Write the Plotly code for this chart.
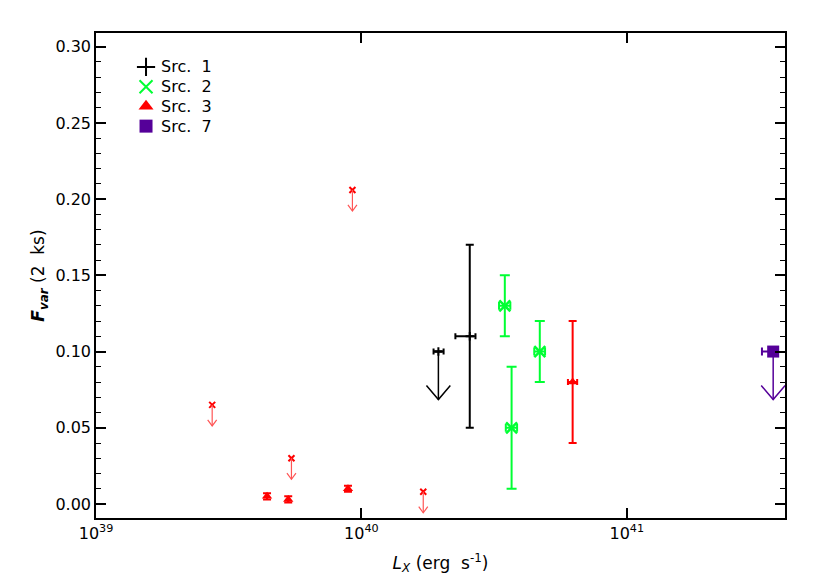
import numpy as np
import plotly.graph_objects as go

# ---------------- data ----------------
# Src. 1 (black)
src1_x = [1.95e40, 2.56e40]
src1_y = [0.10, 0.11]
src1_xerr_minus = [0.08e40, 0.30e40]
src1_xerr_plus = [0.09e40, 0.13e40]
src1_yerr = [0.0, 0.06]
src1_upper = [True, False]

# Src. 2 (green)
src2_x = [3.47e40, 4.70e40, 3.68e40]
src2_y = [0.13, 0.10, 0.05]
src2_yerr = [0.02, 0.02, 0.04]
src2_xerr = [0.17e40, 0.22e40, 0.18e40]

# Src. 3 (red) detections
src3_x = [4.41e39, 5.30e39, 8.90e39, 6.25e40]
src3_y = [0.005, 0.003, 0.010, 0.08]
src3_yerr = [0.002, 0.002, 0.002, 0.04]
src3_xerr = [0.0, 0.0, 0.0, 0.25e40]
# Src. 3 upper limits
src3_lim_x = [2.74e39, 5.45e39, 9.25e39, 1.71e40]
src3_lim_y = [0.065, 0.030, 0.206, 0.008]

# Src. 7 (purple)
src7_x = [3.56e41]
src7_y = [0.10]
src7_xerr_minus = [0.33e41]
src7_upper = [True]

legend_names = ["Src.  1", "Src.  2", "Src.  3", "Src.  7"]
x_tickvals = [1e39, 1e40, 1e41]
x_ticktext = ["10<sup>39</sup>", "10<sup>40</sup>", "10<sup>41</sup>"]
y_tickvals = [0, 0.05, 0.10, 0.15, 0.20, 0.25, 0.30]
y_ticktext = ["0.00", "0.05", "0.10", "0.15", "0.20", "0.25", "0.30"]

# ---------------- style ----------------
BLACK = "black"
GREEN = "#00ff33"
RED = "#ff0000"
PURPLE = "#550099"
FONT = "DejaVu Sans, Verdana, sans-serif"


def arrow_paths(xs, ys, length, head_dec, head_h):
    """Build down-pointing open arrows (shaft + V head) for upper limits."""
    px, py = [], []
    for x, y in zip(xs, ys):
        tip = y - length
        px += [x, x, None, x * 10 ** (-head_dec), x, x * 10 ** head_dec, None]
        py += [y, tip, None, tip + head_h, tip, tip + head_h, None]
    return px, py


fig = go.Figure()

# ---- Src 1 ----
fig.add_trace(go.Scatter(
    x=src1_x, y=src1_y, mode="markers", showlegend=False,
    marker=dict(symbol="cross-thin", size=6, color=BLACK, line=dict(color=BLACK, width=2)),
    error_x=dict(type="data", symmetric=False, array=src1_xerr_plus, arrayminus=src1_xerr_minus,
                 color=BLACK, thickness=2, width=3),
    error_y=dict(type="data", array=src1_yerr, color=BLACK, thickness=2, width=4),
))
lx = [x for x, u in zip(src1_x, src1_upper) if u]
ly = [y for y, u in zip(src1_y, src1_upper) if u]
ax_, ay_ = arrow_paths(lx, ly, 0.0315, 0.045, 0.0092)
fig.add_trace(go.Scatter(x=ax_, y=ay_, mode="lines", showlegend=False,
                         line=dict(color=BLACK, width=1.5)))

# ---- Src 2 ----
fig.add_trace(go.Scatter(
    x=src2_x, y=src2_y, mode="markers", showlegend=False,
    marker=dict(symbol="x-thin", size=11, color=GREEN, line=dict(color=GREEN, width=2.5)),
    error_x=dict(type="data", array=src2_xerr, color=GREEN, thickness=2, width=4),
    error_y=dict(type="data", array=src2_yerr, color=GREEN, thickness=2, width=5),
))

# ---- Src 3 ----
fig.add_trace(go.Scatter(
    x=src3_x, y=src3_y, mode="markers", showlegend=False,
    marker=dict(symbol="triangle-up", size=9, color=RED),
    error_x=dict(type="data", array=src3_xerr, color=RED, thickness=2, width=3),
    error_y=dict(type="data", array=src3_yerr, color=RED, thickness=2, width=4),
))
fig.add_trace(go.Scatter(
    x=src3_lim_x, y=src3_lim_y, mode="markers", showlegend=False,
    marker=dict(symbol="x-thin", size=6, color=RED, line=dict(color=RED, width=2)),
))
ax_, ay_ = arrow_paths(src3_lim_x, src3_lim_y, 0.0138, 0.017, 0.004)
fig.add_trace(go.Scatter(x=ax_, y=ay_, mode="lines", showlegend=False,
                         line=dict(color="#ff5555", width=1.2)))

# ---- Src 7 ----
fig.add_trace(go.Scatter(
    x=src7_x, y=src7_y, mode="markers", showlegend=False,
    marker=dict(symbol="square", size=12, color=PURPLE),
    error_x=dict(type="data", symmetric=False, array=[0.0], arrayminus=src7_xerr_minus,
                 color=PURPLE, thickness=2, width=4),
))
lx = [x for x, u in zip(src7_x, src7_upper) if u]
ly = [y for y, u in zip(src7_y, src7_upper) if u]
ax_, ay_ = arrow_paths(lx, ly, 0.0315, 0.045, 0.0092)
fig.add_trace(go.Scatter(x=ax_, y=ay_, mode="lines", showlegend=False,
                         line=dict(color=PURPLE, width=1.5)))

# ---- manual legend (overlay axes in plot-fraction coordinates) ----
leg_syms = ["cross-thin", "x-thin", "triangle-up", "square"]
leg_cols = [BLACK, GREEN, RED, PURPLE]
leg_lw = [2, 2, 0, 0]
leg_sym_x = 0.0726
leg_text_x = 0.091
leg_rows = [0.930, 0.889, 0.849, 0.808]
fig.add_trace(go.Scatter(
    x=[leg_sym_x] * len(leg_rows), y=leg_rows, xaxis="x2", yaxis="y2",
    mode="markers", showlegend=False, hoverinfo="skip",
    marker=dict(symbol=leg_syms, size=13, color=leg_cols,
                line=dict(color=leg_cols, width=leg_lw)),
))
for name, yy in zip(legend_names, leg_rows):
    fig.add_annotation(x=leg_text_x, y=yy, xref="x2", yref="y2", text=name,
                       showarrow=False, xanchor="left", yanchor="middle",
                       font=dict(size=16, family=FONT))

fig.update_layout(
    width=809, height=576,
    margin=dict(l=88, r=32, t=25, b=66),
    paper_bgcolor="white", plot_bgcolor="white",
    font=dict(family=FONT, size=15, color="black"),
    showlegend=False,
    xaxis2=dict(overlaying="x", range=[0, 1], visible=False, fixedrange=True),
    yaxis2=dict(overlaying="y", range=[0, 1], visible=False, fixedrange=True),
)
fig.layout.xaxis.update(
    type="log", range=[39, 41.596],
    tickvals=x_tickvals, ticktext=x_ticktext,
    ticks="inside", ticklen=10, tickwidth=1.5, tickcolor="black",
    showline=True, linecolor="black", linewidth=1.5, mirror="allticks",
    showgrid=False, zeroline=False,
    tickfont=dict(size=16),
    title=dict(text="<i>L</i><sub><i>X</i></sub> (erg  s<sup>-1</sup>)", standoff=15,
               font=dict(size=17)),
)
fig.layout.yaxis.update(
    range=[-0.0092, 0.309],
    tickvals=y_tickvals, ticktext=y_ticktext,
    ticks="inside", ticklen=10, tickwidth=1.5, tickcolor="black",
    minor=dict(ticks="inside", dtick=0.01, tick0=0, ticklen=5, tickwidth=1.2, tickcolor="black"),
    showline=True, linecolor="black", linewidth=1.5, mirror="allticks",
    showgrid=False, zeroline=False,
    tickfont=dict(size=16),
    title=dict(text="<b><i>F</i></b><sub><b><i>var</i></b></sub> (2  ks)", standoff=6,
               font=dict(size=17)),
)

fig.write_html("out.html")
